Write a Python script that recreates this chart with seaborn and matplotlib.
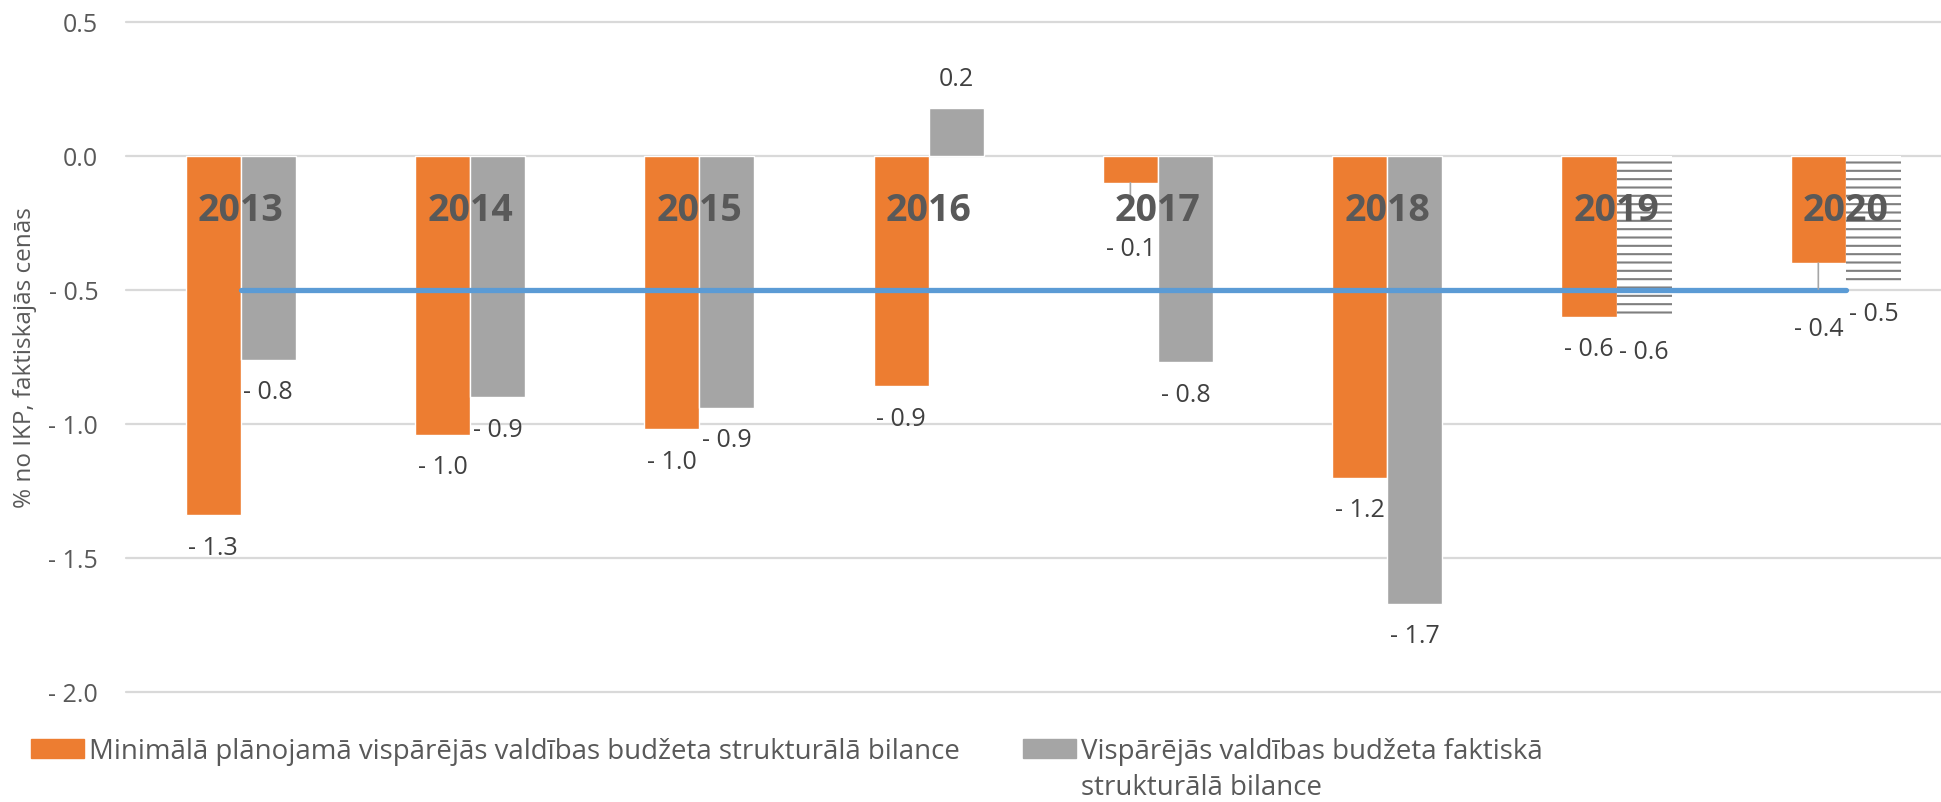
import matplotlib
matplotlib.use("Agg")
import matplotlib.pyplot as plt
import matplotlib.patches as mpatches
import seaborn as sns
import pandas as pd
import numpy as np

# --- DATA ---
YEARS = ["2013", "2014", "2015", "2016", "2017", "2018", "2019", "2020"]
MIN_PLANNED = [-1.34, -1.04, -1.02, -0.86, -0.10, -1.20, -0.60, -0.40]
ACTUAL = [-0.76, -0.90, -0.94, 0.18, -0.77, -1.67, -0.61, -0.47]
TARGET = [-0.5, -0.5, -0.5, -0.5, -0.5, -0.5, -0.5, -0.5]
FORECAST_YEARS = ["2019", "2020"]
LEADER_YEARS = ["2017", "2020"]
SERIES = ["Minimālā plānojamā vispārējās valdības budžeta strukturālā bilance",
          "Vispārējās valdības budžeta faktiskā\nstrukturālā bilance"]
Y_TICKS = [0.5, 0.0, -0.5, -1.0, -1.5, -2.0]
Y_LABEL = "% no IKP, faktiskajās cenās"

# --- STYLE ---
ORANGE = "#ED7D31"
GRAY = "#A5A5A5"
BLUE = "#5B9BD5"
TEXT = "#595959"
LABEL = "#404040"
W, H = 1941, 803
LEG_SIZE = 19.9
VAL_SIZE = 18

sns.set_style("white")
plt.rcParams["font.family"] = ["Open Sans", "DejaVu Sans"]
plt.rcParams["hatch.linewidth"] = 1.5


def fmt(v):
    return f"- {abs(v):.1f}" if v < -0.0001 else f"{v:.1f}"


def main():
    df = pd.DataFrame({
        "year": YEARS * 2,
        "value": MIN_PLANNED + ACTUAL,
        "series": [SERIES[0]] * len(YEARS) + [SERIES[1]] * len(YEARS),
    })

    fig = plt.figure(figsize=(W / 100, H / 100), dpi=100)
    ax = fig.add_axes([126 / W, 110 / H, 1815 / W, 670 / H])

    sns.barplot(data=df, x="year", y="value", hue="series", order=YEARS,
                hue_order=SERIES, palette=[ORANGE, GRAY], width=0.48,
                saturation=1, legend=False, errorbar=None, ax=ax, zorder=2)

    # forecast years drawn as hatched bars
    gray_bars = ax.containers[1]
    for year, bar in zip(YEARS, gray_bars):
        if year in FORECAST_YEARS:
            bar.set_facecolor("white")
            bar.set_edgecolor("#7F7F7F")
            bar.set_hatch("--")
            bar.set_linewidth(0)

    # target line
    x = np.arange(len(YEARS))
    sns.lineplot(x=x, y=TARGET, color=BLUE, linewidth=3.8, ax=ax, zorder=3,
                 solid_capstyle="round")

    # data labels
    for container, values in zip(ax.containers, [MIN_PLANNED, ACTUAL]):
        for i, (bar, v) in enumerate(zip(container, values)):
            cx = bar.get_x() + bar.get_width() / 2
            if v >= 0:
                ax.annotate(fmt(v), (cx, v), xytext=(0, 21), textcoords="offset points",
                            ha="center", va="center", fontsize=VAL_SIZE, color=LABEL)
            elif container is ax.containers[0] and YEARS[i] in LEADER_YEARS:
                ax.annotate(fmt(v), (cx, v), xytext=(0, -47), textcoords="offset points",
                            ha="center", va="center", fontsize=VAL_SIZE, color=LABEL,
                            arrowprops=dict(arrowstyle="-", color="#A6A6A6", lw=1.2,
                                            shrinkA=17, shrinkB=0))
            else:
                ax.annotate(fmt(v), (cx, v), xytext=(0, -23), textcoords="offset points",
                            ha="center", va="center", fontsize=VAL_SIZE, color=LABEL)

    # year labels inside the plot
    for i, year in enumerate(YEARS):
        ax.text(i, -0.2, year, ha="center", va="center", fontsize=27,
                fontweight="bold", color=TEXT, zorder=5)

    ax.set_xlim(-0.5, 7.415)
    ax.set_ylim(-2.0, 0.5)
    ax.set_yticks(Y_TICKS)
    ax.set_yticklabels([fmt(t) for t in Y_TICKS], fontsize=18, color=TEXT)
    ax.tick_params(axis="y", length=0, pad=20)
    ax.tick_params(axis="x", bottom=False, labelbottom=False)
    ax.set_xlabel("")
    ax.set_ylabel(Y_LABEL, fontsize=17.5, color=TEXT)
    ax.yaxis.set_label_coords(-0.049, 0.5)
    ax.yaxis.grid(True, color="#D9D9D9", linewidth=1.6)
    for line in ax.get_ygridlines():
        line.set_clip_on(False)
    ax.set_axisbelow(True)
    sns.despine(ax=ax, left=True, bottom=True)

    # legend, one per series; the wrapped label gets its 2nd line added by hand
    handles = [mpatches.Patch(color=ORANGE), mpatches.Patch(color=GRAY)]
    anchors = [(31 / W, 1 - 752 / H), (1023 / W, 1 - 752 / H)]
    legends = []
    for h, lab, anc in zip(handles, SERIES, anchors):
        first = lab.split("\n")[0]
        leg = fig.legend([h], [first], loc="center left", bbox_to_anchor=anc,
                         frameon=False, fontsize=LEG_SIZE, borderpad=0, borderaxespad=0,
                         handlelength=1.9, handleheight=0.7, handletextpad=0.2,
                         labelcolor=TEXT)
        legends.append((leg, lab))

    fig.canvas.draw()
    for leg, lab in legends:
        lines = lab.split("\n")
        if len(lines) < 2:
            continue
        bb = leg.get_texts()[0].get_window_extent()
        for k, extra in enumerate(lines[1:], start=1):
            fig.text(bb.x0 / W, (bb.y0 - 36 * k) / H, extra, ha="left", va="bottom",
                     fontsize=LEG_SIZE, color=TEXT)

    fig.savefig("out.png", dpi=100)
    plt.close(fig)


if __name__ == "__main__":
    main()
